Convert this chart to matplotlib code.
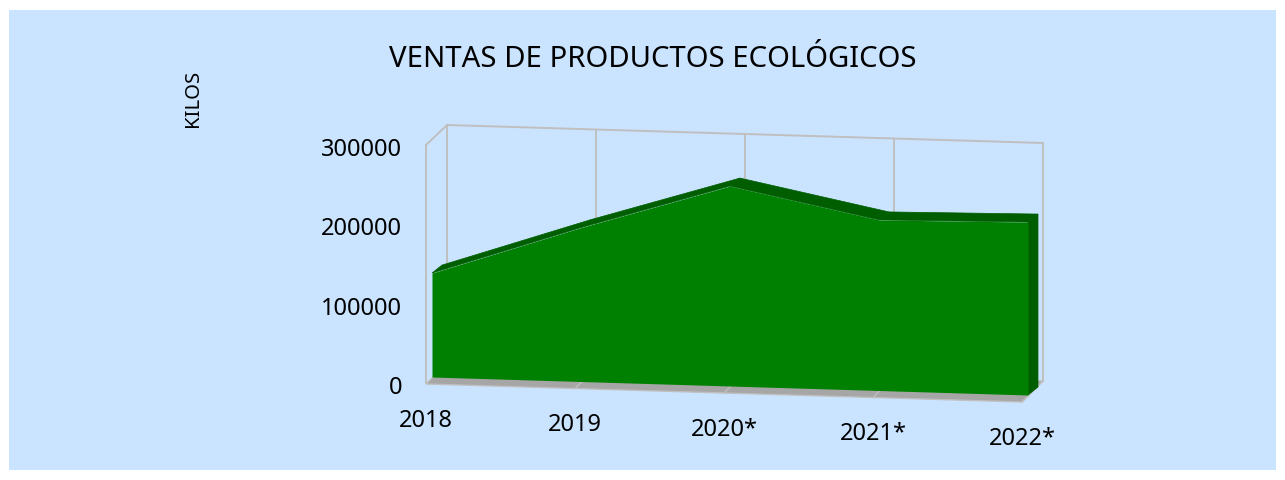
#!/usr/bin/env python3
'''Area chart drawn with a fake 3D look, like the spreadsheet one'''
import matplotlib
matplotlib.use('Agg')
import matplotlib.pyplot as plt
from matplotlib.patches import Polygon, Rectangle
from matplotlib.transforms import Affine2D
import numpy as np

years = ['2018', '2019', '2020*', '2021*', '2022*']
kilos = [131000, 194000, 252000, 215000, 218000]
y_ticks = [0, 100000, 200000, 300000]
title = 'VENTAS DE PRODUCTOS ECOLÓGICOS'
y_title = 'KILOS'

W, H = 1285, 481
STEP = 149.0
SLOPE = 4.5
K = 238 / 300000
VMAX = 300000

GREEN = '#008000'
DARK = '#005E00'
GRID = '#BFBFBF'
FLOOR = '#A6A6A6'
BG = '#CAE4FF'

plt.rcParams['font.family'] = ['Noto Sans', 'DejaVu Sans']

fig = plt.figure(figsize=(W / 100, H / 100), dpi=100)
ax = fig.add_axes([0, 0, 1, 1])
ax.set_xlim(0, W)
ax.set_ylim(H, 0)
ax.axis('off')


def plane(x0, y0):
    '''year index + value -> picture pixels, for a slanted plane starting at x0, y0'''
    return Affine2D.from_values(STEP, SLOPE, 0, -K, x0, y0)


front = plane(426, 385)
back = plane(447, 364)
area_front = plane(432, 378)
area_back = plane(442, 370)
wall_front = plane(426, 384)

ax.add_patch(Rectangle((9, 11), 1267, 460, fc=BG, ec='none', zorder=0))

idx = np.arange(len(years))
last = idx[-1]

# floor
floor_xy = [(0, 0), (last, 0)]
ax.add_patch(Polygon(front.transform(floor_xy).tolist() + back.transform(floor_xy[::-1]).tolist(),
                     closed=True, fc=FLOOR, ec=GRID, lw=1.0, zorder=1))
for i in idx[1:-1]:
    a = front.transform((i, 0))
    b = back.transform((i, 0))
    c = a + (b - a) * 0.3
    ax.plot([a[0], c[0]], [a[1], c[1]], color=GRID, lw=1.0, zorder=2)

# walls and grid
for i in idx:
    ax.plot([i, i], [0, VMAX], color=GRID, lw=1.4, transform=back + ax.transData, zorder=1)
ax.plot([0, last], [VMAX, VMAX], color=GRID, lw=1.4, transform=back + ax.transData, zorder=1)
ax.plot([0, 0], [0, VMAX], color=GRID, lw=1.4, transform=wall_front + ax.transData, zorder=1)
a = wall_front.transform((0, VMAX))
b = back.transform((0, VMAX))
ax.plot([a[0], b[0]], [a[1], b[1]], color=GRID, lw=1.4, zorder=1)
a = front.transform((last, 0))
b = back.transform((last, 0))
ax.plot([a[0], b[0]], [a[1], b[1]], color=GRID, lw=1.0, zorder=2)

# top and right side of the area
for i in idx[:-1]:
    seg = [(i, kilos[i]), (i + 1, kilos[i + 1])]
    ax.add_patch(Polygon(area_front.transform(seg).tolist() + area_back.transform(seg[::-1]).tolist(),
                         closed=True, fc=DARK, ec=DARK, lw=0.5, zorder=3))
seg = [(last, 0), (last, kilos[last])]
ax.add_patch(Polygon(area_front.transform(seg).tolist() + area_back.transform(seg[::-1]).tolist(),
                     closed=True, fc=DARK, ec=DARK, lw=0.5, zorder=3))

# front face
ax.fill_between(idx, 0, kilos, color=GREEN, lw=0, transform=area_front + ax.transData, zorder=4)

# labels
for v in y_ticks:
    x, y = wall_front.transform((0, v))
    ax.text(x - 24, y + 4, str(v), ha='right', va='center', fontsize=17, color='black', zorder=5)
for i, name in zip(idx, years):
    x, y = wall_front.transform((i, 0))
    ax.text(x, y + 37, name, ha='center', va='center', fontsize=17, color='black', zorder=5)

ax.text(652.5, 67, title, ha='center', va='baseline', fontsize=21.1, color='black', zorder=5)
ax.text(193, 98, y_title, rotation=90, ha='center', va='center', fontsize=14.6, color='black', zorder=5)

fig.savefig('out.png', dpi=100, facecolor='white')
